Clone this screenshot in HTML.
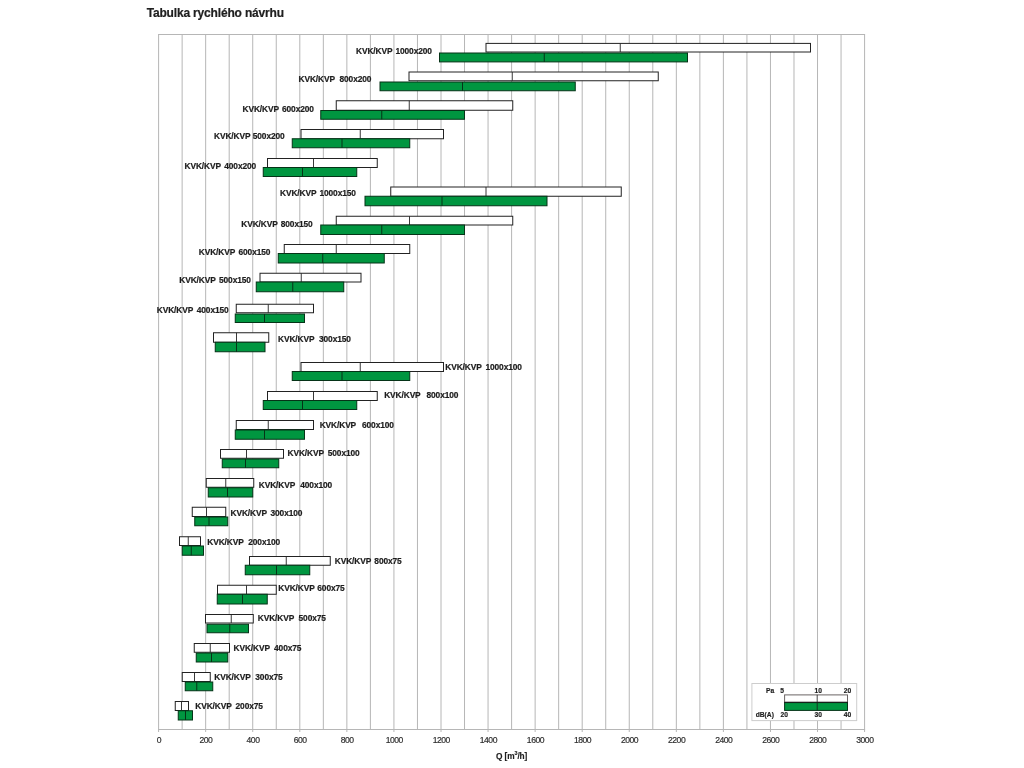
<!DOCTYPE html>
<html lang="cs"><head><meta charset="utf-8"><title>Tabulka rychlého návrhu</title>
<style>html,body{margin:0;padding:0;background:#fff}body{width:1024px;height:768px;overflow:hidden}svg{display:block}text{font-family:"Liberation Sans",Arial,Helvetica,sans-serif}.lb{font-weight:bold;font-size:8.4px;fill:#1e1e1e;stroke:#1e1e1e;stroke-width:.2;letter-spacing:-.12px}.tk{font-size:8.6px;fill:#2e2e2e;stroke:#2e2e2e;stroke-width:.18;text-anchor:middle;letter-spacing:-.5px}.lg{font-weight:bold;font-size:6.7px;fill:#1e1e1e;stroke:#1e1e1e;stroke-width:.18}.g{stroke:#b6b6b6;stroke-width:1;fill:none}.w{fill:#fff;stroke:#222;stroke-width:1}.gr{fill:#009640;stroke:#053317;stroke-width:1}.dw{stroke:#222;stroke-width:.9}.dg{stroke:#053317;stroke-width:1}</style></head><body>
<svg width="1024" height="768" viewBox="0 0 1024 768">
<rect width="1024" height="768" fill="#fff"/>
<text x="146.7" y="17" style="font-weight:bold;font-size:12px;fill:#202020;stroke:#202020;stroke-width:.2;letter-spacing:-.17px">Tabulka rychlého návrhu</text>
<g class="g">
<line x1="158.60" y1="34.50" x2="158.60" y2="732.00"/>
<line x1="182.13" y1="34.50" x2="182.13" y2="729.50"/>
<line x1="205.67" y1="34.50" x2="205.67" y2="732.00"/>
<line x1="229.20" y1="34.50" x2="229.20" y2="729.50"/>
<line x1="252.73" y1="34.50" x2="252.73" y2="732.00"/>
<line x1="276.26" y1="34.50" x2="276.26" y2="729.50"/>
<line x1="299.80" y1="34.50" x2="299.80" y2="732.00"/>
<line x1="323.33" y1="34.50" x2="323.33" y2="729.50"/>
<line x1="346.86" y1="34.50" x2="346.86" y2="732.00"/>
<line x1="370.40" y1="34.50" x2="370.40" y2="729.50"/>
<line x1="393.93" y1="34.50" x2="393.93" y2="732.00"/>
<line x1="417.46" y1="34.50" x2="417.46" y2="729.50"/>
<line x1="441.00" y1="34.50" x2="441.00" y2="732.00"/>
<line x1="464.53" y1="34.50" x2="464.53" y2="729.50"/>
<line x1="488.06" y1="34.50" x2="488.06" y2="732.00"/>
<line x1="511.60" y1="34.50" x2="511.60" y2="729.50"/>
<line x1="535.13" y1="34.50" x2="535.13" y2="732.00"/>
<line x1="558.66" y1="34.50" x2="558.66" y2="729.50"/>
<line x1="582.19" y1="34.50" x2="582.19" y2="732.00"/>
<line x1="605.73" y1="34.50" x2="605.73" y2="729.50"/>
<line x1="629.26" y1="34.50" x2="629.26" y2="732.00"/>
<line x1="652.79" y1="34.50" x2="652.79" y2="729.50"/>
<line x1="676.33" y1="34.50" x2="676.33" y2="732.00"/>
<line x1="699.86" y1="34.50" x2="699.86" y2="729.50"/>
<line x1="723.39" y1="34.50" x2="723.39" y2="732.00"/>
<line x1="746.93" y1="34.50" x2="746.93" y2="729.50"/>
<line x1="770.46" y1="34.50" x2="770.46" y2="732.00"/>
<line x1="793.99" y1="34.50" x2="793.99" y2="729.50"/>
<line x1="817.52" y1="34.50" x2="817.52" y2="732.00"/>
<line x1="841.06" y1="34.50" x2="841.06" y2="729.50"/>
<line x1="864.59" y1="34.50" x2="864.59" y2="732.00"/>
<line x1="158.10" y1="34.50" x2="865.09" y2="34.50"/>
<line x1="158.10" y1="729.50" x2="865.09" y2="729.50"/>
</g>
<text class="tk" x="158.90" y="743.2">0</text>
<text class="tk" x="205.97" y="743.2">200</text>
<text class="tk" x="253.03" y="743.2">400</text>
<text class="tk" x="300.10" y="743.2">600</text>
<text class="tk" x="347.16" y="743.2">800</text>
<text class="tk" x="394.23" y="743.2">1000</text>
<text class="tk" x="441.30" y="743.2">1200</text>
<text class="tk" x="488.36" y="743.2">1400</text>
<text class="tk" x="535.43" y="743.2">1600</text>
<text class="tk" x="582.49" y="743.2">1800</text>
<text class="tk" x="629.56" y="743.2">2000</text>
<text class="tk" x="676.63" y="743.2">2200</text>
<text class="tk" x="723.69" y="743.2">2400</text>
<text class="tk" x="770.76" y="743.2">2600</text>
<text class="tk" x="817.82" y="743.2">2800</text>
<text class="tk" x="864.89" y="743.2">3000</text>
<text x="496" y="759.2" style="font-weight:bold;font-size:8.3px;fill:#1e1e1e;stroke:#1e1e1e;stroke-width:.15;letter-spacing:-.1px">Q [m<tspan dy="-4.6" style="font-size:5.4px">3</tspan><tspan dy="4.6">/h]</tspan></text>
<rect class="w" x="486.00" y="43.40" width="324.50" height="8.60"/>
<line class="dw" x1="620.25" y1="43.40" x2="620.25" y2="52.00"/>
<rect class="gr" x="439.50" y="53.00" width="248.00" height="8.90"/>
<line class="dg" x1="544.25" y1="53.00" x2="544.25" y2="61.90"/>
<text class="lb" x="356.00" y="54.35">KVK/KVP</text>
<text class="lb" text-anchor="end" x="431.80" y="54.35">1000x200</text>
<rect class="w" x="409.00" y="72.00" width="249.25" height="8.75"/>
<line class="dw" x1="512.25" y1="72.00" x2="512.25" y2="80.75"/>
<rect class="gr" x="380.00" y="82.00" width="195.25" height="8.75"/>
<line class="dg" x1="462.50" y1="82.00" x2="462.50" y2="90.75"/>
<text class="lb" x="298.50" y="82.45">KVK/KVP</text>
<text class="lb" text-anchor="end" x="371.30" y="82.45">800x200</text>
<rect class="w" x="336.25" y="100.75" width="176.50" height="9.50"/>
<line class="dw" x1="409.25" y1="100.75" x2="409.25" y2="110.25"/>
<rect class="gr" x="320.75" y="110.50" width="143.75" height="8.75"/>
<line class="dg" x1="381.75" y1="110.50" x2="381.75" y2="119.25"/>
<text class="lb" x="242.50" y="112.45">KVK/KVP</text>
<text class="lb" text-anchor="end" x="313.80" y="112.45">600x200</text>
<rect class="w" x="301.00" y="129.50" width="142.50" height="9.25"/>
<line class="dw" x1="360.25" y1="129.50" x2="360.25" y2="138.75"/>
<rect class="gr" x="292.25" y="138.75" width="117.50" height="9.00"/>
<line class="dg" x1="342.00" y1="138.75" x2="342.00" y2="147.75"/>
<text class="lb" x="214.00" y="138.70">KVK/KVP</text>
<text class="lb" text-anchor="end" x="284.55" y="138.70">500x200</text>
<rect class="w" x="267.50" y="158.50" width="109.75" height="9.00"/>
<line class="dw" x1="313.50" y1="158.50" x2="313.50" y2="167.50"/>
<rect class="gr" x="263.25" y="167.50" width="93.50" height="9.00"/>
<line class="dg" x1="302.50" y1="167.50" x2="302.50" y2="176.50"/>
<text class="lb" x="184.50" y="169.20">KVK/KVP</text>
<text class="lb" text-anchor="end" x="256.05" y="169.20">400x200</text>
<rect class="w" x="390.75" y="187.00" width="230.50" height="9.25"/>
<line class="dw" x1="486.00" y1="187.00" x2="486.00" y2="196.25"/>
<rect class="gr" x="365.00" y="196.25" width="182.00" height="9.50"/>
<line class="dg" x1="442.00" y1="196.25" x2="442.00" y2="205.75"/>
<text class="lb" x="280.00" y="196.45">KVK/KVP</text>
<text class="lb" text-anchor="end" x="355.80" y="196.45">1000x150</text>
<rect class="w" x="336.25" y="216.25" width="176.50" height="8.75"/>
<line class="dw" x1="409.50" y1="216.25" x2="409.50" y2="225.00"/>
<rect class="gr" x="320.75" y="225.00" width="143.75" height="9.50"/>
<line class="dg" x1="381.75" y1="225.00" x2="381.75" y2="234.50"/>
<text class="lb" x="241.25" y="227.20">KVK/KVP</text>
<text class="lb" text-anchor="end" x="312.55" y="227.20">800x150</text>
<rect class="w" x="284.25" y="244.50" width="125.50" height="9.00"/>
<line class="dw" x1="336.25" y1="244.50" x2="336.25" y2="253.50"/>
<rect class="gr" x="278.25" y="253.50" width="106.00" height="9.50"/>
<line class="dg" x1="322.75" y1="253.50" x2="322.75" y2="263.00"/>
<text class="lb" x="198.75" y="254.70">KVK/KVP</text>
<text class="lb" text-anchor="end" x="270.30" y="254.70">600x150</text>
<rect class="w" x="260.00" y="273.25" width="101.00" height="8.75"/>
<line class="dw" x1="301.25" y1="273.25" x2="301.25" y2="282.00"/>
<rect class="gr" x="256.25" y="282.00" width="87.50" height="9.75"/>
<line class="dg" x1="292.75" y1="282.00" x2="292.75" y2="291.75"/>
<text class="lb" x="179.25" y="282.70">KVK/KVP</text>
<text class="lb" text-anchor="end" x="250.80" y="282.70">500x150</text>
<rect class="w" x="236.25" y="304.25" width="77.25" height="8.50"/>
<line class="dw" x1="268.25" y1="304.25" x2="268.25" y2="312.75"/>
<rect class="gr" x="235.25" y="314.00" width="69.25" height="8.50"/>
<line class="dg" x1="264.50" y1="314.00" x2="264.50" y2="322.50"/>
<text class="lb" x="156.75" y="312.70">KVK/KVP</text>
<text class="lb" text-anchor="end" x="228.55" y="312.70">400x150</text>
<rect class="w" x="213.50" y="332.75" width="55.25" height="9.50"/>
<line class="dw" x1="236.50" y1="332.75" x2="236.50" y2="342.25"/>
<rect class="gr" x="215.25" y="342.25" width="49.75" height="9.50"/>
<line class="dg" x1="236.50" y1="342.25" x2="236.50" y2="351.75"/>
<text class="lb" x="278.00" y="341.95">KVK/KVP</text>
<text class="lb" text-anchor="end" x="350.80" y="341.95">300x150</text>
<rect class="w" x="301.00" y="362.50" width="142.50" height="9.00"/>
<line class="dw" x1="360.25" y1="362.50" x2="360.25" y2="371.50"/>
<rect class="gr" x="292.25" y="371.50" width="117.50" height="9.00"/>
<line class="dg" x1="342.00" y1="371.50" x2="342.00" y2="380.50"/>
<text class="lb" x="445.25" y="369.95">KVK/KVP</text>
<text class="lb" text-anchor="end" x="521.80" y="369.95">1000x100</text>
<rect class="w" x="267.50" y="391.50" width="109.75" height="9.00"/>
<line class="dw" x1="313.50" y1="391.50" x2="313.50" y2="400.50"/>
<rect class="gr" x="263.25" y="400.50" width="93.50" height="9.00"/>
<line class="dg" x1="302.50" y1="400.50" x2="302.50" y2="409.50"/>
<text class="lb" x="384.20" y="397.95">KVK/KVP</text>
<text class="lb" text-anchor="end" x="458.30" y="397.95">800x100</text>
<rect class="w" x="236.25" y="420.50" width="77.25" height="9.00"/>
<line class="dw" x1="268.25" y1="420.50" x2="268.25" y2="429.50"/>
<rect class="gr" x="235.25" y="430.00" width="69.25" height="9.25"/>
<line class="dg" x1="264.50" y1="430.00" x2="264.50" y2="439.25"/>
<text class="lb" x="319.70" y="428.25">KVK/KVP</text>
<text class="lb" text-anchor="end" x="393.80" y="428.25">600x100</text>
<rect class="w" x="220.50" y="449.50" width="63.00" height="8.75"/>
<line class="dw" x1="246.50" y1="449.50" x2="246.50" y2="458.25"/>
<rect class="gr" x="222.25" y="459.00" width="56.50" height="8.75"/>
<line class="dg" x1="245.50" y1="459.00" x2="245.50" y2="467.75"/>
<text class="lb" x="287.50" y="455.95">KVK/KVP</text>
<text class="lb" text-anchor="end" x="359.55" y="455.95">500x100</text>
<rect class="w" x="206.25" y="478.50" width="47.50" height="8.75"/>
<line class="dw" x1="225.75" y1="478.50" x2="225.75" y2="487.25"/>
<rect class="gr" x="208.25" y="487.75" width="44.50" height="9.25"/>
<line class="dg" x1="227.50" y1="487.75" x2="227.50" y2="497.00"/>
<text class="lb" x="258.75" y="487.70">KVK/KVP</text>
<text class="lb" text-anchor="end" x="332.05" y="487.70">400x100</text>
<rect class="w" x="192.25" y="507.25" width="33.50" height="9.25"/>
<line class="dw" x1="206.50" y1="507.25" x2="206.50" y2="516.50"/>
<rect class="gr" x="194.75" y="517.00" width="33.00" height="8.75"/>
<line class="dg" x1="209.00" y1="517.00" x2="209.00" y2="525.75"/>
<text class="lb" x="230.50" y="515.70">KVK/KVP</text>
<text class="lb" text-anchor="end" x="302.30" y="515.70">300x100</text>
<rect class="w" x="179.50" y="536.75" width="21.00" height="8.75"/>
<line class="dw" x1="188.25" y1="536.75" x2="188.25" y2="545.50"/>
<rect class="gr" x="182.25" y="546.00" width="21.25" height="9.25"/>
<line class="dg" x1="191.25" y1="546.00" x2="191.25" y2="555.25"/>
<text class="lb" x="207.25" y="544.95">KVK/KVP</text>
<text class="lb" text-anchor="end" x="280.05" y="544.95">200x100</text>
<rect class="w" x="249.50" y="556.50" width="80.75" height="8.75"/>
<line class="dw" x1="286.25" y1="556.50" x2="286.25" y2="565.25"/>
<rect class="gr" x="245.25" y="565.25" width="64.50" height="9.50"/>
<line class="dg" x1="276.50" y1="565.25" x2="276.50" y2="574.75"/>
<text class="lb" x="334.80" y="563.95">KVK/KVP</text>
<text class="lb" text-anchor="end" x="401.60" y="563.95">800x75</text>
<rect class="w" x="217.50" y="585.25" width="58.75" height="9.00"/>
<line class="dw" x1="246.50" y1="585.25" x2="246.50" y2="594.25"/>
<rect class="gr" x="217.25" y="594.25" width="50.00" height="9.75"/>
<line class="dg" x1="242.50" y1="594.25" x2="242.50" y2="604.00"/>
<text class="lb" x="278.25" y="590.95">KVK/KVP</text>
<text class="lb" text-anchor="end" x="344.55" y="590.95">600x75</text>
<rect class="w" x="205.50" y="614.50" width="47.75" height="8.50"/>
<line class="dw" x1="231.25" y1="614.50" x2="231.25" y2="623.00"/>
<rect class="gr" x="207.00" y="624.25" width="41.50" height="8.50"/>
<line class="dg" x1="229.75" y1="624.25" x2="229.75" y2="632.75"/>
<text class="lb" x="257.75" y="621.45">KVK/KVP</text>
<text class="lb" text-anchor="end" x="325.80" y="621.45">500x75</text>
<rect class="w" x="194.25" y="643.50" width="35.25" height="8.75"/>
<line class="dw" x1="210.25" y1="643.50" x2="210.25" y2="652.25"/>
<rect class="gr" x="196.25" y="653.00" width="31.50" height="9.00"/>
<line class="dg" x1="211.50" y1="653.00" x2="211.50" y2="662.00"/>
<text class="lb" x="233.50" y="650.70">KVK/KVP</text>
<text class="lb" text-anchor="end" x="301.30" y="650.70">400x75</text>
<rect class="w" x="182.25" y="672.50" width="28.00" height="9.00"/>
<line class="dw" x1="194.50" y1="672.50" x2="194.50" y2="681.50"/>
<rect class="gr" x="185.25" y="682.00" width="27.50" height="8.75"/>
<line class="dg" x1="196.75" y1="682.00" x2="196.75" y2="690.75"/>
<text class="lb" x="214.25" y="679.95">KVK/KVP</text>
<text class="lb" text-anchor="end" x="282.55" y="679.95">300x75</text>
<rect class="w" x="175.25" y="701.50" width="13.25" height="9.00"/>
<line class="dw" x1="181.50" y1="701.50" x2="181.50" y2="710.50"/>
<rect class="gr" x="178.25" y="710.75" width="14.25" height="9.25"/>
<line class="dg" x1="185.50" y1="710.75" x2="185.50" y2="720.00"/>
<text class="lb" x="195.25" y="709.20">KVK/KVP</text>
<text class="lb" text-anchor="end" x="262.80" y="709.20">200x75</text>
<rect x="751.9" y="683.5" width="104.8" height="37.1" fill="#fff" stroke="#cdcdcd" stroke-width="1"/>
<rect x="784.6" y="694.9" width="62.9" height="7.4" fill="#fff" stroke="#6a6464" stroke-width="1"/>
<rect class="gr" x="784.6" y="702.6" width="62.9" height="7.8"/>
<line x1="784.1" y1="702.3" x2="848" y2="702.3" stroke="#1a1a1a" stroke-width=".9"/>
<line x1="817.2" y1="694.8" x2="817.2" y2="710.4" stroke="#1a1a1a" stroke-width=".8"/>
<text class="lg" x="766" y="692.9">Pa</text>
<text class="lg" text-anchor="end" x="784.1" y="692.9">5</text>
<text class="lg" text-anchor="middle" x="818.2" y="692.9">10</text>
<text class="lg" text-anchor="middle" x="847.4" y="692.9">20</text>
<text class="lg" x="755.7" y="716.9">dB(A)</text>
<text class="lg" x="780.6" y="716.9">20</text>
<text class="lg" text-anchor="middle" x="818.2" y="716.9">30</text>
<text class="lg" text-anchor="middle" x="847.4" y="716.9">40</text>
</svg></body></html>
